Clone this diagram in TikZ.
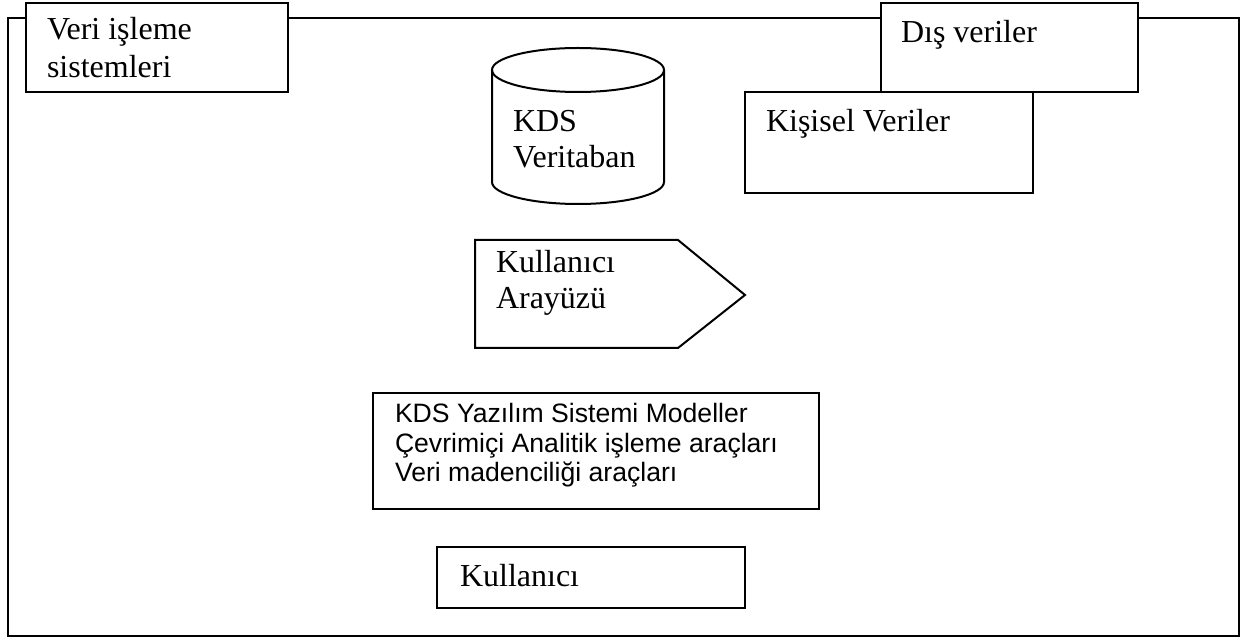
\documentclass[tikz,border=0pt]{standalone}
\usepackage{fontspec}
\setmainfont{Liberation Serif}
\newfontfamily\arialfont{Liberation Sans}
\begin{document}
\begin{tikzpicture}[x=0.5pt,y=-0.5pt,line width=1pt,line join=miter,
  box/.style={draw=black,fill=white},
  serif/.style={anchor=base west,inner sep=0pt,font=\fontsize{16}{19}\selectfont},
  sans/.style={anchor=base west,inner sep=0pt,font=\arialfont\fontsize{13.3}{15}\selectfont}]
\useasboundingbox (0,0) rectangle (1248,641);
% outer frame
\draw (8,18) rectangle (1239,636);
% data processing systems
\draw[box] (26,3) rectangle (288,92);
\node[serif] (veri1) at (46,40) {Veri işleme};
\node[serif] (veri2) at (46,78) {sistemleri};
% personal data (drawn before the external data box)
\draw[box] (745,92) rectangle (1033,193);
\node[serif] (kisisel) at (765,132) {Kişisel Veriler};
% external data
\draw[box] (881,3) rectangle (1138,92);
\node[serif] (dis) at (900,43) {Dış veriler};
% database cylinder
\draw (492,70) -- (492,182)
  .. controls (492,194.15) and (530.5,204) .. (578,204)
  .. controls (625.5,204) and (664,194.15) .. (664,182) -- (664,70);
\draw (578,70) ellipse [x radius=86, y radius=22];
\node[serif] (kds1) at (512,132) {KDS};
\node[serif] (kds2) at (512,168) {Veritaban};
% user interface
\draw (475,240) -- (678,240) -- (745,295) -- (678,348) -- (475,348) -- cycle;
\node[serif] (ui1) at (495,273) {Kullanıcı};
\node[serif] (ui2) at (495,309) {Arayüzü};
% software system
\draw[box] (373,393) rectangle (819,509);
\node[sans] (sw1) at (394,423) {KDS Yazılım Sistemi Modeller};
\node[sans] (sw2) at (394,453) {Çevrimiçi Analitik işleme araçları};
\node[sans] (sw3) at (394,482) {Veri madenciliği araçları};
% user
\draw[box] (437,547) rectangle (745,608);
\node[serif] (user) at (459,587) {Kullanıcı};
\end{tikzpicture}
\end{document}
